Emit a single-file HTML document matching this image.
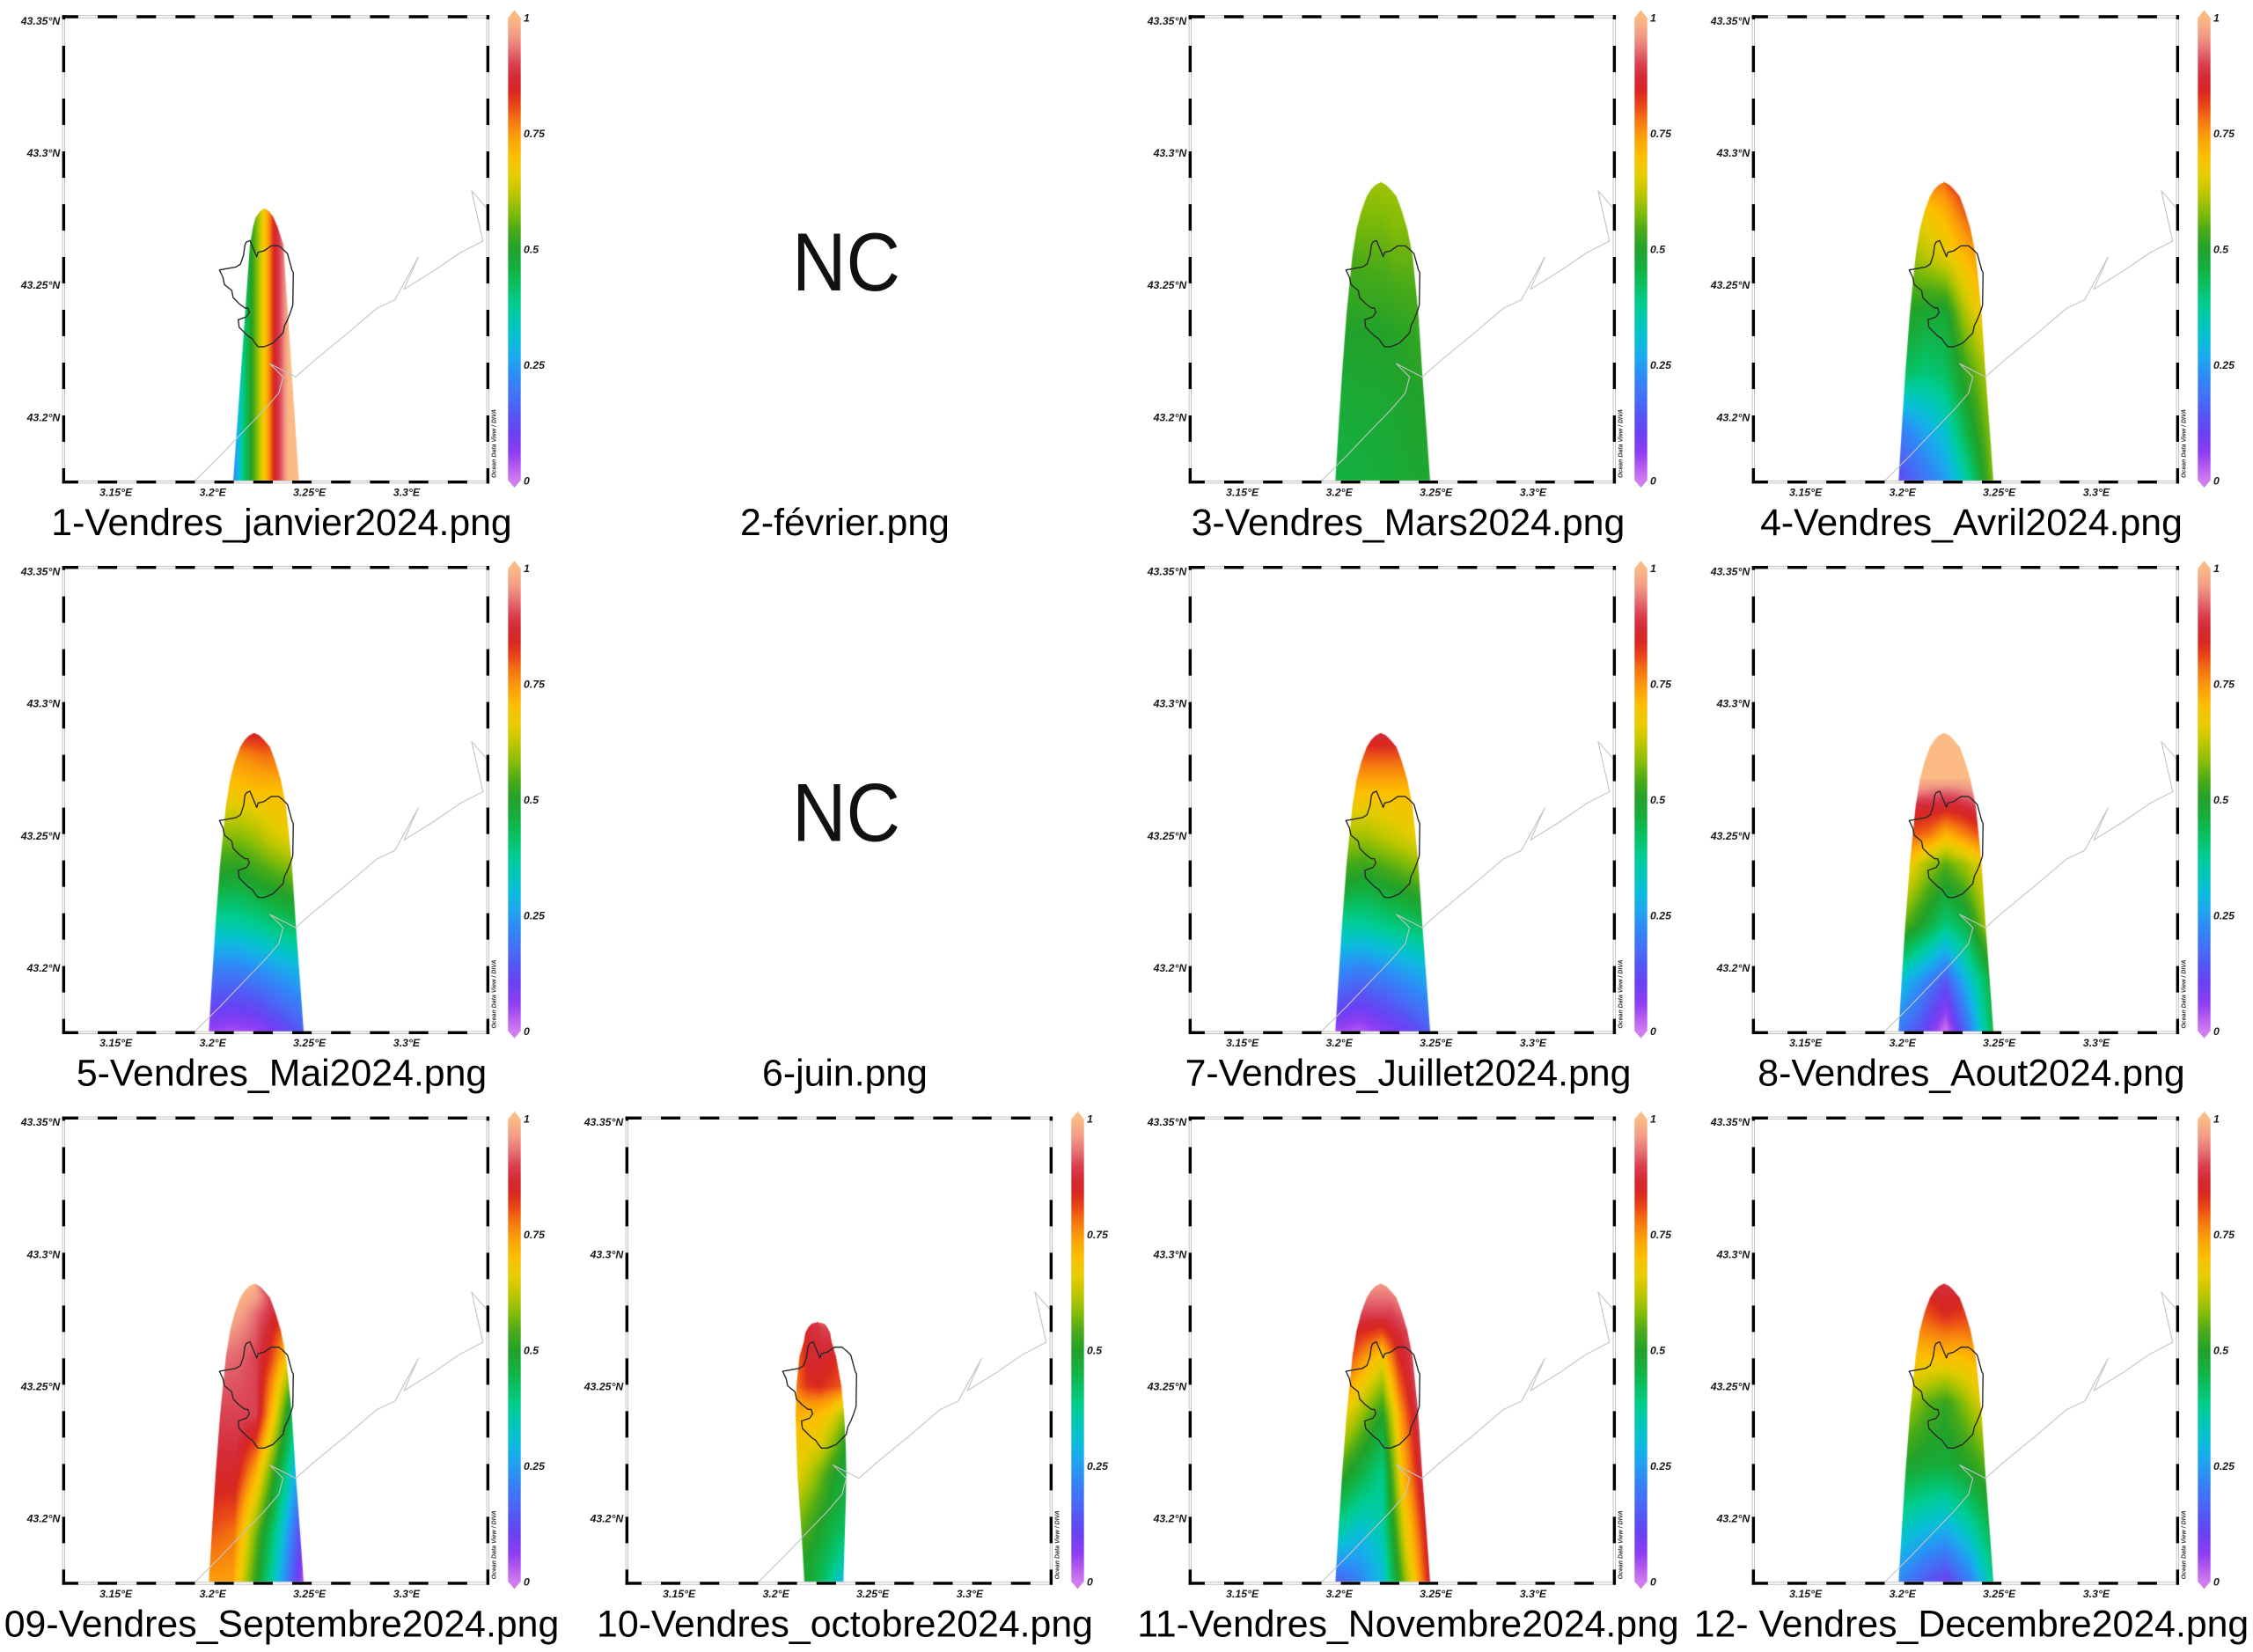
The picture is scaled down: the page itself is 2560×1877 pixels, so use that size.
<!DOCTYPE html>
<html><head><meta charset="utf-8"><style>
html,body{margin:0;padding:0;background:#fff}
body{width:2560px;height:1877px;position:relative;overflow:hidden}
canvas,svg{position:absolute;left:0;top:0}
</style></head><body>
<canvas id="cv" width="2560" height="1877"></canvas>
<svg width="2560" height="1877" viewBox="0 0 2560 1877">
<defs>
<linearGradient id="cb" x1="0" y1="0" x2="0" y2="1">
<stop offset="0" stop-color="#fcba84"/><stop offset="0.04" stop-color="#f29a84"/><stop offset="0.07" stop-color="#e67074"/><stop offset="0.10" stop-color="#da4252"/><stop offset="0.13" stop-color="#d42a34"/><stop offset="0.16" stop-color="#d82820"/><stop offset="0.19" stop-color="#e84818"/><stop offset="0.22" stop-color="#f47410"/><stop offset="0.26" stop-color="#fca008"/><stop offset="0.30" stop-color="#fcc000"/><stop offset="0.34" stop-color="#e6cc00"/><stop offset="0.38" stop-color="#bcc600"/><stop offset="0.42" stop-color="#84bc08"/><stop offset="0.46" stop-color="#48aa18"/><stop offset="0.50" stop-color="#22a22a"/><stop offset="0.54" stop-color="#14b040"/><stop offset="0.58" stop-color="#08c064"/><stop offset="0.62" stop-color="#00cc90"/><stop offset="0.66" stop-color="#00c8b8"/><stop offset="0.70" stop-color="#0cbcdc"/><stop offset="0.74" stop-color="#1ea4f0"/><stop offset="0.78" stop-color="#3088f6"/><stop offset="0.82" stop-color="#4470f6"/><stop offset="0.86" stop-color="#5656f4"/><stop offset="0.90" stop-color="#6c40f4"/><stop offset="0.94" stop-color="#8e3ef2"/><stop offset="0.97" stop-color="#b45af0"/><stop offset="1" stop-color="#d27cf2"/>
</linearGradient>
<clipPath id="mc"><rect x="72" y="19" width="482" height="528"/></clipPath>
<g id="geo">
<g clip-path="url(#mc)">
<path d="M209,558.6 L221.7,546 L250,518 L276.7,490 L300,466 L316.7,446.7 L321.7,428.3 L306.7,413.3 L336,428.3 L356.7,410 L393.3,380 L428,350.4 L448.7,340.6 L475.3,292.2 L459,328.8 L493.7,307.2 L522.3,287.5 L548.8,273.8 L535.8,216.8 L560,244.4" fill="none" stroke="#c4c4c4" stroke-width="1.1" stroke-linejoin="round"/>
<path d="M280,275 L284,273.3 L291.7,291.7 L293.3,286.7 L300,285 L308.3,279.3 L316.7,279.3 L321.7,283.3 L326.7,288.3 L331.7,306.7 L333.3,310 L332.7,346.7 L330,355 L326.7,363.3 L323.3,370 L321.7,378.3 L316.7,383.3 L310,390 L300,394 L293.3,394 L290,390 L286.7,385 L281.7,381.7 L276.7,376.7 L271.7,371.7 L270.7,363.3 L275,361.7 L280,360 L283.3,355 L281.7,350 L278.3,350 L271.7,345 L265,338.3 L263.3,330 L255,323.3 L253.3,315 L249.3,306.7 L268.3,303.3 L273.3,300 L276.7,290 L278.3,278.3 Z" fill="none" stroke="#2a2a2a" stroke-width="1.4" stroke-linejoin="round"/>
</g>
<rect x="72.35" y="19" width="482" height="528.65" fill="none" stroke="#bdbdbd" stroke-width="3.4"/>
<rect x="72.35" y="19" width="482" height="528.65" fill="none" stroke="#fff" stroke-width="1.6"/>
<g stroke="#000" stroke-width="3.4" fill="none">
<line x1="70.65" y1="19" x2="556.05" y2="19" stroke-dasharray="22.1 22.1" stroke-dashoffset="3.85"/>
<line x1="70.65" y1="547.65" x2="556.05" y2="547.65" stroke-dasharray="22.1 22.1" stroke-dashoffset="3.85"/>
<line x1="72.35" y1="17.3" x2="72.35" y2="549.35" stroke-dasharray="30 30" stroke-dashoffset="25.3"/>
<line x1="554.35" y1="17.3" x2="554.35" y2="549.35" stroke-dasharray="30 30" stroke-dashoffset="25.3"/>
</g>
<rect x="577.3" y="20" width="14.4" height="526" fill="url(#cb)"/>
<polygon points="577.3,20.3 584.5,11.5 591.7,20.3" fill="#fcba84"/>
<polygon points="577.3,545.7 584.5,554 591.7,545.7" fill="#d27cf2"/>
</g>
</defs>

<use href="#geo" x="0" y="0"/>
<use href="#geo" x="1280" y="0"/>
<use href="#geo" x="1920" y="0"/>
<use href="#geo" x="0" y="625.67"/>
<use href="#geo" x="1280" y="625.67"/>
<use href="#geo" x="1920" y="625.67"/>
<use href="#geo" x="0" y="1251.33"/>
<use href="#geo" x="640" y="1251.33"/>
<use href="#geo" x="1280" y="1251.33"/>
<use href="#geo" x="1920" y="1251.33"/>

<g font-family="'Liberation Sans',Arial,sans-serif" font-weight="bold" font-style="italic" font-size="12.3" fill="#1a1a1a">
<g transform="translate(0,0)"><text x="68.3" y="27.8" text-anchor="end">43.35°N</text><text x="68.3" y="178" text-anchor="end">43.3°N</text><text x="68.3" y="328.2" text-anchor="end">43.25°N</text><text x="68.3" y="478.4" text-anchor="end">43.2°N</text><text x="131.7" y="563.5" text-anchor="middle">3.15°E</text><text x="241.7" y="563.5" text-anchor="middle">3.2°E</text><text x="351.7" y="563.5" text-anchor="middle">3.25°E</text><text x="462" y="563.5" text-anchor="middle">3.3°E</text><text x="595" y="24.3">1</text><text x="595" y="155.8">0.75</text><text x="595" y="287.3">0.5</text><text x="595" y="418.8">0.25</text><text x="595" y="550.3">0</text><text transform="translate(563.6,543) rotate(-90)" font-size="7" fill="#333">Ocean Data View / DIVA</text></g>
<g transform="translate(1280,0)"><text x="68.3" y="27.8" text-anchor="end">43.35°N</text><text x="68.3" y="178" text-anchor="end">43.3°N</text><text x="68.3" y="328.2" text-anchor="end">43.25°N</text><text x="68.3" y="478.4" text-anchor="end">43.2°N</text><text x="131.7" y="563.5" text-anchor="middle">3.15°E</text><text x="241.7" y="563.5" text-anchor="middle">3.2°E</text><text x="351.7" y="563.5" text-anchor="middle">3.25°E</text><text x="462" y="563.5" text-anchor="middle">3.3°E</text><text x="595" y="24.3">1</text><text x="595" y="155.8">0.75</text><text x="595" y="287.3">0.5</text><text x="595" y="418.8">0.25</text><text x="595" y="550.3">0</text><text transform="translate(563.6,543) rotate(-90)" font-size="7" fill="#333">Ocean Data View / DIVA</text></g>
<g transform="translate(1920,0)"><text x="68.3" y="27.8" text-anchor="end">43.35°N</text><text x="68.3" y="178" text-anchor="end">43.3°N</text><text x="68.3" y="328.2" text-anchor="end">43.25°N</text><text x="68.3" y="478.4" text-anchor="end">43.2°N</text><text x="131.7" y="563.5" text-anchor="middle">3.15°E</text><text x="241.7" y="563.5" text-anchor="middle">3.2°E</text><text x="351.7" y="563.5" text-anchor="middle">3.25°E</text><text x="462" y="563.5" text-anchor="middle">3.3°E</text><text x="595" y="24.3">1</text><text x="595" y="155.8">0.75</text><text x="595" y="287.3">0.5</text><text x="595" y="418.8">0.25</text><text x="595" y="550.3">0</text><text transform="translate(563.6,543) rotate(-90)" font-size="7" fill="#333">Ocean Data View / DIVA</text></g>
<g transform="translate(0,625.67)"><text x="68.3" y="27.8" text-anchor="end">43.35°N</text><text x="68.3" y="178" text-anchor="end">43.3°N</text><text x="68.3" y="328.2" text-anchor="end">43.25°N</text><text x="68.3" y="478.4" text-anchor="end">43.2°N</text><text x="131.7" y="563.5" text-anchor="middle">3.15°E</text><text x="241.7" y="563.5" text-anchor="middle">3.2°E</text><text x="351.7" y="563.5" text-anchor="middle">3.25°E</text><text x="462" y="563.5" text-anchor="middle">3.3°E</text><text x="595" y="24.3">1</text><text x="595" y="155.8">0.75</text><text x="595" y="287.3">0.5</text><text x="595" y="418.8">0.25</text><text x="595" y="550.3">0</text><text transform="translate(563.6,543) rotate(-90)" font-size="7" fill="#333">Ocean Data View / DIVA</text></g>
<g transform="translate(1280,625.67)"><text x="68.3" y="27.8" text-anchor="end">43.35°N</text><text x="68.3" y="178" text-anchor="end">43.3°N</text><text x="68.3" y="328.2" text-anchor="end">43.25°N</text><text x="68.3" y="478.4" text-anchor="end">43.2°N</text><text x="131.7" y="563.5" text-anchor="middle">3.15°E</text><text x="241.7" y="563.5" text-anchor="middle">3.2°E</text><text x="351.7" y="563.5" text-anchor="middle">3.25°E</text><text x="462" y="563.5" text-anchor="middle">3.3°E</text><text x="595" y="24.3">1</text><text x="595" y="155.8">0.75</text><text x="595" y="287.3">0.5</text><text x="595" y="418.8">0.25</text><text x="595" y="550.3">0</text><text transform="translate(563.6,543) rotate(-90)" font-size="7" fill="#333">Ocean Data View / DIVA</text></g>
<g transform="translate(1920,625.67)"><text x="68.3" y="27.8" text-anchor="end">43.35°N</text><text x="68.3" y="178" text-anchor="end">43.3°N</text><text x="68.3" y="328.2" text-anchor="end">43.25°N</text><text x="68.3" y="478.4" text-anchor="end">43.2°N</text><text x="131.7" y="563.5" text-anchor="middle">3.15°E</text><text x="241.7" y="563.5" text-anchor="middle">3.2°E</text><text x="351.7" y="563.5" text-anchor="middle">3.25°E</text><text x="462" y="563.5" text-anchor="middle">3.3°E</text><text x="595" y="24.3">1</text><text x="595" y="155.8">0.75</text><text x="595" y="287.3">0.5</text><text x="595" y="418.8">0.25</text><text x="595" y="550.3">0</text><text transform="translate(563.6,543) rotate(-90)" font-size="7" fill="#333">Ocean Data View / DIVA</text></g>
<g transform="translate(0,1251.33)"><text x="68.3" y="27.8" text-anchor="end">43.35°N</text><text x="68.3" y="178" text-anchor="end">43.3°N</text><text x="68.3" y="328.2" text-anchor="end">43.25°N</text><text x="68.3" y="478.4" text-anchor="end">43.2°N</text><text x="131.7" y="563.5" text-anchor="middle">3.15°E</text><text x="241.7" y="563.5" text-anchor="middle">3.2°E</text><text x="351.7" y="563.5" text-anchor="middle">3.25°E</text><text x="462" y="563.5" text-anchor="middle">3.3°E</text><text x="595" y="24.3">1</text><text x="595" y="155.8">0.75</text><text x="595" y="287.3">0.5</text><text x="595" y="418.8">0.25</text><text x="595" y="550.3">0</text><text transform="translate(563.6,543) rotate(-90)" font-size="7" fill="#333">Ocean Data View / DIVA</text></g>
<g transform="translate(640,1251.33)"><text x="68.3" y="27.8" text-anchor="end">43.35°N</text><text x="68.3" y="178" text-anchor="end">43.3°N</text><text x="68.3" y="328.2" text-anchor="end">43.25°N</text><text x="68.3" y="478.4" text-anchor="end">43.2°N</text><text x="131.7" y="563.5" text-anchor="middle">3.15°E</text><text x="241.7" y="563.5" text-anchor="middle">3.2°E</text><text x="351.7" y="563.5" text-anchor="middle">3.25°E</text><text x="462" y="563.5" text-anchor="middle">3.3°E</text><text x="595" y="24.3">1</text><text x="595" y="155.8">0.75</text><text x="595" y="287.3">0.5</text><text x="595" y="418.8">0.25</text><text x="595" y="550.3">0</text><text transform="translate(563.6,543) rotate(-90)" font-size="7" fill="#333">Ocean Data View / DIVA</text></g>
<g transform="translate(1280,1251.33)"><text x="68.3" y="27.8" text-anchor="end">43.35°N</text><text x="68.3" y="178" text-anchor="end">43.3°N</text><text x="68.3" y="328.2" text-anchor="end">43.25°N</text><text x="68.3" y="478.4" text-anchor="end">43.2°N</text><text x="131.7" y="563.5" text-anchor="middle">3.15°E</text><text x="241.7" y="563.5" text-anchor="middle">3.2°E</text><text x="351.7" y="563.5" text-anchor="middle">3.25°E</text><text x="462" y="563.5" text-anchor="middle">3.3°E</text><text x="595" y="24.3">1</text><text x="595" y="155.8">0.75</text><text x="595" y="287.3">0.5</text><text x="595" y="418.8">0.25</text><text x="595" y="550.3">0</text><text transform="translate(563.6,543) rotate(-90)" font-size="7" fill="#333">Ocean Data View / DIVA</text></g>
<g transform="translate(1920,1251.33)"><text x="68.3" y="27.8" text-anchor="end">43.35°N</text><text x="68.3" y="178" text-anchor="end">43.3°N</text><text x="68.3" y="328.2" text-anchor="end">43.25°N</text><text x="68.3" y="478.4" text-anchor="end">43.2°N</text><text x="131.7" y="563.5" text-anchor="middle">3.15°E</text><text x="241.7" y="563.5" text-anchor="middle">3.2°E</text><text x="351.7" y="563.5" text-anchor="middle">3.25°E</text><text x="462" y="563.5" text-anchor="middle">3.3°E</text><text x="595" y="24.3">1</text><text x="595" y="155.8">0.75</text><text x="595" y="287.3">0.5</text><text x="595" y="418.8">0.25</text><text x="595" y="550.3">0</text><text transform="translate(563.6,543) rotate(-90)" font-size="7" fill="#333">Ocean Data View / DIVA</text></g>
</g>

<g font-family="'Liberation Sans',Arial,sans-serif" font-size="42.8" fill="#000" text-anchor="middle">
<text x="320" y="608">1-Vendres_janvier2024.png</text>
<text x="960" y="608">2-février.png</text>
<text x="1600" y="608">3-Vendres_Mars2024.png</text>
<text x="2240" y="608">4-Vendres_Avril2024.png</text>
<text x="320" y="1233.67">5-Vendres_Mai2024.png</text>
<text x="960" y="1233.67">6-juin.png</text>
<text x="1600" y="1233.67">7-Vendres_Juillet2024.png</text>
<text x="2240" y="1233.67">8-Vendres_Aout2024.png</text>
<text x="320" y="1859.33">09-Vendres_Septembre2024.png</text>
<text x="960" y="1859.33">10-Vendres_octobre2024.png</text>
<text x="1600" y="1859.33">11-Vendres_Novembre2024.png</text>
<text x="2240" y="1859.33">12- Vendres_Decembre2024.png</text>
</g>
<g font-family="'Liberation Sans',Arial,sans-serif" font-size="94" fill="#111" text-anchor="middle">
<text x="961.5" y="330" textLength="123" lengthAdjust="spacingAndGlyphs">NC</text>
<text x="961.5" y="955.67" textLength="123" lengthAdjust="spacingAndGlyphs">NC</text>
</g>
</svg>
<script>
(function(){
var ST=[[0,'#d27cf2'],[0.03,'#b45af0'],[0.06,'#8e3ef2'],[0.10,'#6c40f4'],[0.14,'#5656f4'],[0.18,'#4470f6'],[0.22,'#3088f6'],[0.26,'#1ea4f0'],[0.30,'#0cbcdc'],[0.34,'#00c8b8'],[0.38,'#00cc90'],[0.42,'#08c064'],[0.46,'#14b040'],[0.50,'#22a22a'],[0.54,'#48aa18'],[0.58,'#84bc08'],[0.62,'#bcc600'],[0.66,'#e6cc00'],[0.70,'#fcc000'],[0.74,'#fca008'],[0.78,'#f47410'],[0.81,'#e84818'],[0.84,'#d82820'],[0.87,'#d42a34'],[0.90,'#da4252'],[0.93,'#e67074'],[0.96,'#f29a84'],[1.00,'#fcba84']];
function hx(h){return [parseInt(h.substr(1,2),16),parseInt(h.substr(3,2),16),parseInt(h.substr(5,2),16)];}
var S=ST.map(function(s){return [s[0],hx(s[1])];});
function cmap(v){
 if(!(v>0))return S[0][1]; if(v>=1)return S[S.length-1][1];
 for(var i=1;i<S.length;i++){ if(v<=S[i][0]){var a=S[i-1],b=S[i],t=(v-a[0])/(b[0]-a[0]);
  return [a[1][0]+(b[1][0]-a[1][0])*t,a[1][1]+(b[1][1]-a[1][1])*t,a[1][2]+(b[1][2]-a[1][2])*t];}}
 return S[S.length-1][1];
}
function tf(rows){return function(u,s){
 if(u<-1)u=-1; if(u>1)u=1;
 var i=0; while(i<rows.length-2 && s>rows[i+1][0]) i++;
 var r0=rows[i],r1=rows[i+1]; var t=(s-r0[0])/(r1[0]-r0[0]); if(t<0)t=0; if(t>1)t=1;
 function f(a){var p=(u+1)*2; var k=Math.min(3,Math.floor(p)); var q=p-k; return a[k]*(1-q)+a[k+1]*q;}
 return f(r0[1])*(1-t)+f(r1[1])*t;
};}
function xf(tab){return function(u,s,xr){
 if(xr<=tab[0][0])return tab[0][1]; if(xr>=tab[tab.length-1][0])return tab[tab.length-1][1];
 for(var i=1;i<tab.length;i++){ if(xr<=tab[i][0]){var a=tab[i-1],b=tab[i];return a[1]+(b[1]-a[1])*(xr-a[0])/(b[0]-a[0]);}}
};}
var STD=[[207,289,289],[210,283,295],[215,278,300],[223,273,306.7],[240,266.7,313],[260,261.5,319],[290,256.7,325],[356.7,250,331.7],[423.3,245,336],[490,240.7,341],[546,237.3,345]];
var P1=[[236.5,300.6,300.6],[240,295.5,305.8],[247,290.5,310.8],[258,287.5,315.5],[278,284,322],[546,265,339.6]];
var P10=[[251,289,289],[251.5,285,293],[253,282,297],[256.7,278.3,300],[263.3,275,303.3],[273.3,273.3,305],[290,268.3,310],[323.3,265,316],[356.7,264,319.3],[390,265,321],[423.3,266,321.7],[456.7,268.3,321],[490,270.7,320],[523.3,272.7,319],[546,274,318.3]];
var f1=xf([[264.9,0.2],[271,0.3],[277.1,0.4],[285.3,0.5],[293.5,0.6],[301.6,0.7],[306.5,0.77],[311.8,0.85],[320,0.92],[328.2,1.0]]);
var f3=tf([[0,[0.6,0.6,0.6,0.6,0.6]],[0.15,[0.57,0.57,0.57,0.58,0.58]],[0.3,[0.53,0.54,0.54,0.55,0.55]],[0.5,[0.5,0.5,0.5,0.51,0.52]],[0.75,[0.47,0.48,0.48,0.49,0.5]],[1,[0.46,0.46,0.47,0.48,0.49]]]);
var f4=tf([[0,[0.78,0.78,0.78,0.8,0.82]],[0.097,[0.68,0.7,0.72,0.76,0.8]],[0.245,[0.6,0.63,0.66,0.7,0.74]],[0.44,[0.5,0.48,0.48,0.6,0.68]],[0.64,[0.42,0.4,0.42,0.52,0.6]],[0.835,[0.2,0.26,0.32,0.46,0.58]],[1,[0.12,0.18,0.25,0.38,0.58]]]);
var f5=tf([[0,[0.85,0.85,0.85,0.85,0.85]],[0.08,[0.75,0.76,0.77,0.78,0.78]],[0.2,[0.68,0.69,0.7,0.7,0.7]],[0.35,[0.58,0.58,0.6,0.64,0.66]],[0.5,[0.48,0.47,0.5,0.52,0.55]],[0.65,[0.35,0.35,0.37,0.4,0.42]],[0.8,[0.2,0.2,0.22,0.25,0.28]],[1,[0.05,0.04,0.05,0.1,0.15]]]);
var f7=tf([[0,[0.88,0.88,0.88,0.88,0.88]],[0.08,[0.8,0.8,0.8,0.8,0.8]],[0.2,[0.7,0.7,0.7,0.7,0.7]],[0.35,[0.6,0.6,0.62,0.64,0.66]],[0.5,[0.5,0.48,0.5,0.52,0.55]],[0.65,[0.36,0.36,0.38,0.4,0.42]],[0.8,[0.22,0.2,0.22,0.25,0.28]],[1,[0.05,0.03,0.06,0.1,0.15]]]);
var f8=tf([[0,[1,1,1,1,1]],[0.15,[1,1,1,1,1]],[0.2,[0.94,0.93,0.92,0.93,0.95]],[0.245,[0.87,0.87,0.86,0.87,0.9]],[0.34,[0.8,0.78,0.72,0.76,0.8]],[0.44,[0.68,0.6,0.55,0.6,0.66]],[0.64,[0.55,0.48,0.4,0.45,0.6]],[0.835,[0.3,0.22,0.14,0.3,0.45]],[1,[0.2,0.12,0.0,0.2,0.45]]]);
var f9=tf([[0,[1,1,1,0.97,0.92]],[0.1,[0.98,0.96,0.93,0.9,0.87]],[0.245,[0.93,0.92,0.9,0.82,0.7]],[0.44,[0.9,0.9,0.9,0.68,0.44]],[0.64,[0.86,0.86,0.72,0.5,0.28]],[0.835,[0.8,0.78,0.57,0.36,0.12]],[1,[0.74,0.74,0.51,0.28,0.03]]]);
var f10=tf([[0,[0.88,0.88,0.9,0.92,0.92]],[0.02,[0.87,0.88,0.88,0.9,0.9]],[0.13,[0.8,0.86,0.87,0.86,0.84]],[0.245,[0.78,0.83,0.84,0.82,0.8]],[0.3,[0.74,0.76,0.76,0.74,0.7]],[0.36,[0.72,0.71,0.7,0.66,0.6]],[0.47,[0.68,0.67,0.65,0.58,0.5]],[0.585,[0.66,0.62,0.56,0.5,0.47]],[0.7,[0.6,0.56,0.52,0.48,0.45]],[0.81,[0.55,0.52,0.48,0.44,0.42]],[0.92,[0.5,0.48,0.44,0.4,0.35]],[1,[0.5,0.46,0.42,0.36,0.28]]]);
var f11=tf([[0,[0.96,0.96,0.96,0.96,0.96]],[0.1,[0.9,0.9,0.9,0.9,0.92]],[0.17,[0.84,0.82,0.8,0.86,0.9]],[0.245,[0.8,0.74,0.68,0.83,0.9]],[0.44,[0.66,0.58,0.5,0.74,0.9]],[0.64,[0.52,0.45,0.38,0.7,0.88]],[0.835,[0.36,0.3,0.35,0.65,0.86]],[1,[0.15,0.21,0.3,0.6,0.86]]]);
var f12=tf([[0,[0.88,0.88,0.88,0.88,0.88]],[0.1,[0.8,0.82,0.84,0.83,0.82]],[0.25,[0.7,0.7,0.7,0.7,0.72]],[0.4,[0.6,0.55,0.52,0.58,0.65]],[0.6,[0.5,0.48,0.47,0.5,0.55]],[0.8,[0.35,0.32,0.3,0.36,0.45]],[1,[0.22,0.15,0.1,0.2,0.38]]]);
var R1=625.67,R2=1251.33;
var P=[[0,0,P1,f1],[1280,0,STD,f3],[1920,0,STD,f4],[0,R1,STD,f5],[1280,R1,STD,f7],[1920,R1,STD,f8],[0,R2,STD,f9],[640,R2,P10,f10],[1280,R2,STD,f11],[1920,R2,STD,f12]];
var cv=document.getElementById('cv'),ctx=cv.getContext('2d');
var W=2560,H=1877,img=ctx.createImageData(W,H),d=img.data;
function edges(sh,y){
 if(y<sh[0][0]||y>sh[sh.length-1][0])return null;
 for(var i=1;i<sh.length;i++){ if(y<=sh[i][0]){var a=sh[i-1],b=sh[i],t=(y-a[0])/(b[0]-a[0]);return [a[1]+(b[1]-a[1])*t,a[2]+(b[2]-a[2])*t];}}
 return null;
}
P.forEach(function(p){
 var X0=p[0],Y0=p[1],sh=p[2],fn=p[3];
 var yt=sh[0][0],yb=sh[sh.length-1][0];
 for(var py=Math.floor(Y0+yt);py<Math.ceil(Y0+yb);py++){
  var yr=py+0.5-Y0; if(yr<yt||yr>yb)continue;
  var e=edges(sh,yr); if(!e)continue;
  var L=e[0]+X0,R=e[1]+X0,mid=(e[0]+e[1])/2,half=(e[1]-e[0])/2; if(half<0.5)half=0.5;
  var s=(yr-yt)/(yb-yt);
  for(var px=Math.floor(L);px<Math.ceil(R);px++){
   var cov=Math.min(px+1,R)-Math.max(px,L); if(cov<=0)continue; if(cov>1)cov=1;
   var xr=px+0.5-X0; var u=(xr-mid)/half;
   var c=cmap(fn(u,s,xr,yr));
   var k=(py*W+px)*4; d[k]=c[0];d[k+1]=c[1];d[k+2]=c[2];d[k+3]=Math.round(cov*255);
  }
 }
});
ctx.putImageData(img,0,0);
})();
</script>
</body></html>
